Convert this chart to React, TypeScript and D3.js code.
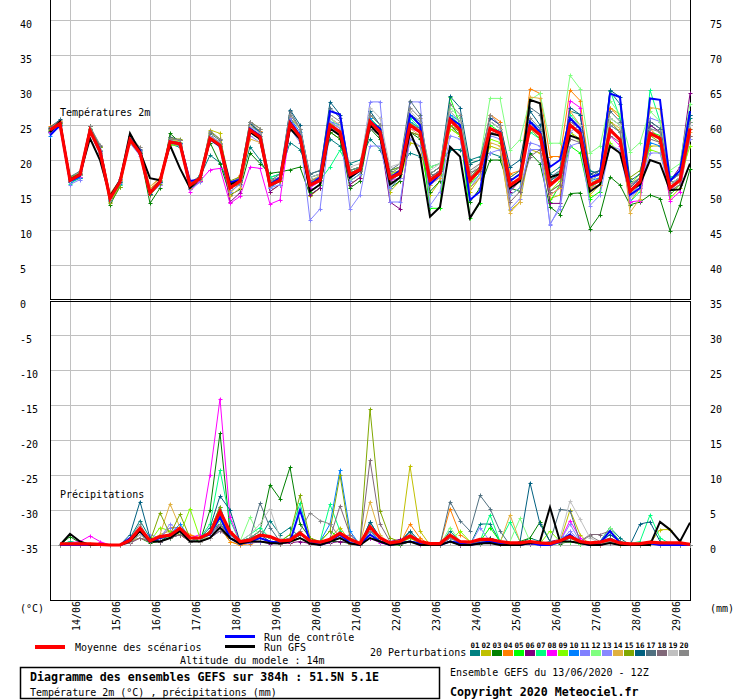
import * as d3 from "d3";

// 6-hourly steps from 13/06/2020 12Z (hours)
const T_HOURS = d3.range(0, 385, 6);
const P_HOURS = d3.range(6, 385, 6);
const DAYS = ["14/06", "15/06", "16/06", "17/06", "18/06", "19/06", "20/06", "21/06",
  "22/06", "23/06", "24/06", "25/06", "26/06", "27/06", "28/06", "29/06"];
const PERT_LABELS = ["01", "02", "03", "04", "05", "06", "07", "08", "09", "10",
  "11", "12", "13", "14", "15", "16", "17", "18", "19", "20"];
const PERT_COLORS = ["#008080", "#c0c000", "#008000", "#ff8000", "#00ff00", "#800080", "#00ff80",
  "#ff00ff", "#80ff00", "#0080ff", "#8080ff", "#80ff80", "#8888ff", "#e0b040", "#80a800",
  "#006080", "#507080", "#806878", "#c0c0c0", "#888888"];

// temperature 2m (°C)
const T_MEAN = [24.3, 25.2, 17.1, 17.9, 24.2, 21.2, 14.5, 16.9, 22.9, 21.0, 15.3, 16.9, 22.6, 22.3, 16.4, 17.4, 23.1, 22.1, 16.0, 17.0, 24.3, 23.3, 16.4, 17.1, 25.2, 23.3, 16.4, 17.1, 25.0, 24.0, 17.9, 18.6, 25.5, 24.0, 17.4, 18.1, 25.0, 24.0, 17.1, 18.1, 25.7, 24.3, 17.1, 18.6, 24.5, 23.8, 16.4, 17.4, 24.8, 23.6, 16.4, 17.6, 25.0, 23.8, 16.4, 17.1, 24.3, 22.9, 15.5, 16.9, 23.8, 23.1, 16.0, 17.1, 24.5];
const T_CTRL = [23.5, 25.0, 17.0, 17.7, 24.1, 21.5, 14.6, 17.0, 23.0, 21.4, 15.4, 17.0, 22.6, 22.4, 17.0, 17.2, 23.0, 22.0, 16.8, 17.2, 24.5, 23.5, 16.5, 17.5, 25.5, 23.5, 16.5, 17.5, 27.0, 26.5, 17.5, 18.5, 25.5, 24.5, 17.5, 18.5, 26.5, 25.0, 16.5, 18.0, 26.0, 25.0, 14.3, 15.5, 24.5, 24.0, 17.0, 18.0, 25.5, 24.0, 19.0, 20.0, 26.0, 24.5, 17.5, 18.0, 29.5, 29.0, 15.0, 16.0, 28.8, 28.6, 17.0, 18.5, 27.0];
const T_GFS = [24.0, 25.5, 17.2, 18.0, 23.1, 20.0, 14.8, 17.0, 23.8, 21.2, 17.4, 17.1, 22.1, 18.8, 16.0, 17.5, 23.0, 22.0, 16.5, 17.0, 24.0, 23.0, 16.5, 17.0, 24.5, 23.0, 15.5, 16.5, 24.5, 23.5, 17.5, 18.5, 25.0, 23.5, 16.5, 17.5, 24.0, 20.7, 11.9, 13.3, 21.9, 20.5, 11.7, 14.0, 23.8, 23.5, 16.0, 17.0, 28.6, 28.1, 17.5, 18.0, 23.5, 23.0, 15.5, 16.5, 22.0, 21.0, 15.7, 16.5, 20.0, 19.5, 15.7, 15.8, 19.5];
const T01 = [24.0, 25.0, 17.0, 17.6, 24.0, 21.5, 14.8, 17.0, 22.6, 20.8, 15.5, 17.2, 22.3, 21.8, 16.2, 17.6, 20.7, 19.6, 16.0, 16.6, 21.9, 20.0, 17.5, 18.0, 22.5, 21.5, 18.0, 18.5, 23.0, 22.0, 19.5, 20.0, 23.0, 21.5, 18.5, 19.0, 21.0, 20.5, 19.0, 19.5, 21.5, 21.5, 20.0, 20.5, 21.0, 20.5, 17.0, 18.0, 25.5, 24.0, 18.0, 19.0, 27.0, 26.5, 18.5, 18.0, 29.8, 28.0, 16.0, 17.5, 25.0, 24.0, 17.5, 18.0, 26.0];
const T02 = [24.5, 25.5, 17.5, 18.0, 24.5, 21.5, 14.0, 16.5, 23.0, 21.3, 15.0, 16.8, 23.3, 22.8, 16.8, 17.2, 24.3, 23.8, 15.2, 16.8, 25.0, 24.0, 15.5, 16.5, 26.0, 24.5, 14.8, 16.0, 24.0, 23.0, 16.5, 17.5, 26.5, 25.0, 15.5, 17.0, 22.5, 22.0, 15.0, 17.0, 24.5, 23.5, 15.5, 17.5, 22.0, 21.5, 12.8, 14.0, 21.5, 21.0, 14.5, 15.0, 24.0, 23.0, 15.0, 16.5, 27.5, 26.5, 14.0, 16.0, 22.0, 22.0, 14.5, 16.0, 23.0];
const T03 = [24.2, 25.0, 16.8, 17.4, 24.8, 21.8, 13.6, 16.2, 23.5, 21.0, 13.8, 16.0, 23.8, 22.5, 15.8, 17.0, 22.5, 19.5, 15.0, 15.8, 21.0, 19.5, 18.1, 18.3, 18.6, 19.0, 15.0, 16.0, 24.0, 23.0, 16.0, 17.0, 24.5, 23.0, 16.0, 17.0, 24.0, 23.0, 15.5, 17.0, 25.0, 23.5, 14.0, 16.0, 20.0, 20.0, 16.0, 15.5, 21.0, 19.5, 13.3, 12.2, 15.2, 15.3, 10.2, 12.2, 17.6, 16.4, 13.6, 14.0, 15.0, 14.5, 9.9, 13.6, 18.7];
const T04 = [24.8, 25.6, 17.3, 18.0, 24.5, 22.0, 15.0, 17.2, 23.2, 21.5, 15.8, 17.5, 23.0, 22.8, 16.5, 17.5, 23.5, 22.5, 16.5, 17.8, 25.0, 24.2, 17.0, 17.5, 26.5, 24.5, 17.0, 17.5, 26.0, 25.0, 18.0, 19.0, 26.0, 24.5, 18.0, 18.5, 26.5, 25.0, 17.5, 18.5, 26.0, 24.5, 18.0, 19.0, 26.5, 25.5, 18.0, 18.5, 30.2, 29.5, 20.5, 20.5, 30.0, 28.5, 18.0, 18.5, 27.5, 26.0, 16.5, 17.0, 24.5, 23.0, 15.5, 16.5, 23.5];
const T05 = [24.0, 25.2, 17.0, 17.8, 24.0, 21.0, 14.5, 16.8, 23.0, 21.2, 15.5, 17.0, 22.5, 22.0, 16.5, 17.5, 23.5, 22.0, 16.5, 17.0, 24.0, 23.0, 17.0, 17.5, 25.0, 23.0, 15.5, 16.5, 25.5, 24.0, 17.0, 18.0, 26.0, 24.5, 16.0, 17.5, 25.5, 24.0, 13.1, 13.1, 29.0, 25.0, 11.7, 13.8, 25.0, 24.0, 15.0, 16.0, 25.5, 24.0, 14.0, 16.5, 22.0, 21.0, 14.5, 15.5, 26.0, 25.0, 15.0, 16.5, 24.0, 23.5, 15.0, 16.5, 25.5];
const T06 = [24.5, 25.3, 17.2, 17.9, 24.2, 21.0, 14.5, 17.0, 23.0, 21.2, 15.2, 16.8, 22.8, 22.5, 16.0, 17.0, 23.0, 22.0, 14.0, 15.3, 24.5, 23.5, 15.5, 16.5, 25.5, 23.0, 15.0, 16.0, 25.0, 23.5, 16.5, 17.5, 25.0, 23.5, 14.0, 13.0, 24.0, 23.5, 17.5, 18.5, 26.0, 24.5, 17.0, 18.5, 24.0, 23.5, 15.5, 17.0, 25.0, 24.0, 13.8, 13.8, 25.5, 24.5, 16.5, 17.5, 24.5, 23.0, 16.0, 17.5, 25.0, 24.0, 17.0, 19.0, 29.5];
const T07 = [24.2, 25.0, 16.6, 17.5, 24.5, 21.5, 14.2, 16.5, 23.0, 21.0, 15.0, 16.8, 23.0, 22.5, 16.5, 17.8, 23.0, 22.0, 16.5, 17.5, 24.5, 23.0, 17.5, 18.0, 25.0, 23.0, 16.0, 17.1, 19.0, 21.4, 18.5, 19.0, 26.0, 24.5, 17.0, 18.0, 26.0, 24.5, 17.0, 18.0, 26.5, 25.0, 16.5, 18.0, 25.5, 24.5, 17.0, 18.0, 24.0, 23.0, 17.0, 18.5, 26.5, 25.0, 16.0, 17.0, 30.0, 26.0, 14.0, 15.5, 30.0, 25.5, 17.5, 18.0, 26.5];
const T08 = [24.0, 25.4, 17.0, 17.6, 24.3, 21.3, 14.8, 17.0, 22.8, 20.8, 15.0, 16.5, 22.8, 22.5, 15.5, 17.0, 18.6, 18.8, 13.8, 14.8, 19.0, 18.8, 13.7, 14.3, 24.5, 23.0, 16.0, 17.0, 25.5, 24.5, 17.5, 18.5, 25.0, 23.5, 17.0, 17.5, 24.5, 24.0, 16.5, 17.5, 26.0, 24.0, 17.5, 18.5, 26.0, 25.0, 16.0, 17.0, 25.0, 24.0, 15.0, 16.0, 28.5, 27.5, 16.0, 16.5, 23.5, 22.0, 14.0, 14.2, 24.0, 23.0, 14.2, 15.5, 24.5];
const T09 = [24.6, 25.3, 17.5, 18.2, 24.0, 21.0, 14.6, 17.1, 22.8, 21.2, 15.6, 17.2, 22.2, 22.0, 16.3, 17.5, 23.3, 22.5, 16.2, 17.2, 24.5, 23.5, 16.5, 17.0, 25.5, 23.5, 17.0, 17.5, 24.5, 23.5, 18.5, 19.0, 25.0, 23.5, 18.0, 18.5, 25.5, 24.5, 17.0, 18.0, 24.5, 23.5, 16.5, 18.5, 23.0, 22.5, 17.5, 18.5, 25.0, 23.5, 15.5, 17.0, 24.0, 22.5, 16.5, 17.5, 22.5, 21.0, 16.5, 18.0, 21.5, 21.0, 16.5, 17.5, 22.0];
const T10 = [23.5, 24.8, 16.8, 17.5, 24.0, 21.5, 14.3, 16.6, 23.2, 21.5, 15.2, 17.0, 22.5, 22.5, 16.6, 17.6, 23.3, 22.3, 16.3, 17.2, 24.8, 24.0, 16.0, 17.0, 26.0, 24.0, 17.0, 17.6, 25.5, 25.0, 18.0, 18.5, 26.0, 24.0, 17.5, 18.5, 25.5, 24.5, 17.0, 18.5, 26.5, 25.5, 17.5, 19.0, 24.5, 24.0, 16.0, 17.0, 25.5, 24.5, 17.5, 18.5, 26.0, 24.5, 17.0, 17.5, 25.0, 24.0, 15.0, 16.5, 22.5, 22.0, 16.0, 17.5, 25.0];
const T11 = [23.8, 25.0, 16.5, 17.2, 23.8, 21.0, 14.5, 17.0, 22.6, 21.3, 15.0, 16.5, 22.5, 22.0, 15.8, 16.8, 23.5, 22.5, 15.5, 16.5, 24.0, 23.5, 16.5, 17.5, 26.0, 23.5, 11.4, 13.0, 24.5, 24.0, 17.0, 18.0, 28.3, 28.3, 14.0, 14.0, 23.0, 22.0, 17.0, 17.5, 25.0, 24.0, 16.0, 18.0, 23.5, 23.0, 13.0, 14.5, 22.5, 22.0, 10.7, 13.5, 24.0, 25.0, 18.0, 18.5, 22.0, 21.5, 16.5, 17.0, 26.0, 25.5, 16.0, 17.5, 26.5];
const T12 = [24.4, 25.1, 17.2, 17.9, 24.6, 21.4, 14.4, 16.9, 22.7, 21.1, 15.3, 17.1, 22.9, 22.6, 16.4, 17.3, 23.0, 22.2, 16.2, 17.0, 24.0, 23.0, 16.8, 17.6, 25.5, 23.5, 17.5, 18.0, 26.0, 24.5, 17.5, 18.5, 25.0, 24.0, 18.0, 19.0, 26.5, 25.0, 19.0, 19.5, 27.5, 26.0, 19.5, 20.0, 28.8, 28.8, 21.4, 22.9, 28.6, 29.5, 22.4, 22.4, 32.1, 30.2, 21.0, 22.0, 28.5, 26.5, 21.2, 22.5, 27.0, 25.5, 18.5, 19.5, 28.0];
const T13 = [24.1, 25.2, 17.4, 18.1, 23.9, 20.8, 14.7, 17.3, 22.4, 20.6, 15.4, 16.7, 22.9, 22.0, 16.2, 17.2, 22.8, 21.8, 16.8, 17.5, 23.5, 22.5, 16.0, 16.5, 24.5, 22.5, 16.5, 17.0, 25.5, 24.5, 13.0, 15.0, 22.0, 22.0, 16.0, 17.5, 28.3, 28.3, 13.5, 15.5, 23.5, 23.0, 16.0, 17.5, 21.0, 21.5, 15.0, 16.0, 21.5, 21.5, 10.9, 13.0, 22.0, 22.5, 13.5, 15.0, 22.0, 21.0, 14.5, 16.0, 21.0, 21.0, 15.5, 17.0, 23.0];
const T14 = [24.5, 25.6, 17.4, 18.3, 24.3, 22.0, 15.2, 17.2, 22.5, 21.8, 16.2, 17.5, 22.6, 22.8, 16.0, 17.2, 22.8, 22.2, 14.8, 16.0, 23.0, 22.5, 16.5, 17.0, 24.5, 23.0, 17.0, 17.8, 25.0, 24.0, 18.0, 18.5, 25.0, 24.0, 17.5, 18.0, 24.5, 23.5, 16.5, 17.5, 25.0, 24.0, 16.0, 17.5, 22.5, 22.0, 12.5, 14.0, 29.0, 28.8, 15.0, 16.0, 27.0, 25.0, 16.0, 16.5, 25.5, 24.5, 12.5, 14.5, 27.5, 27.3, 15.5, 16.5, 24.0];
const T15 = [24.3, 25.3, 17.6, 18.0, 24.8, 21.8, 13.8, 16.2, 22.8, 21.0, 15.0, 16.6, 23.0, 23.0, 16.8, 17.6, 24.0, 23.0, 17.0, 17.6, 25.5, 24.5, 16.5, 17.0, 25.5, 23.5, 16.8, 17.2, 25.0, 23.5, 18.0, 18.8, 25.5, 24.0, 18.5, 19.0, 24.0, 23.5, 18.0, 19.0, 25.0, 24.0, 17.5, 19.0, 24.0, 23.5, 17.0, 18.0, 24.5, 23.0, 15.5, 16.5, 25.0, 24.0, 17.0, 18.0, 25.5, 24.0, 17.5, 18.5, 23.5, 22.5, 16.5, 17.5, 24.5];
const T16 = [24.6, 25.8, 17.0, 17.8, 24.0, 21.3, 14.4, 16.9, 23.1, 21.0, 15.1, 16.8, 22.7, 22.3, 16.4, 17.4, 23.2, 22.3, 16.2, 17.2, 25.2, 24.0, 16.8, 17.5, 27.2, 25.0, 17.5, 18.0, 28.3, 26.5, 18.5, 19.0, 27.0, 25.0, 17.0, 18.5, 26.5, 25.5, 18.0, 19.0, 29.1, 27.5, 19.5, 20.0, 26.0, 25.0, 19.0, 20.0, 27.0, 25.0, 17.0, 18.0, 27.5, 26.5, 18.0, 18.5, 30.0, 29.0, 17.0, 18.0, 25.5, 24.5, 16.5, 17.5, 26.5];
const T17 = [24.7, 25.5, 17.6, 18.4, 24.8, 22.0, 14.9, 17.3, 23.4, 21.6, 15.5, 17.0, 23.3, 22.8, 16.6, 17.8, 23.8, 22.8, 16.5, 17.5, 25.5, 24.0, 17.0, 18.0, 27.0, 24.5, 18.0, 18.5, 27.5, 26.0, 18.0, 19.0, 26.5, 25.0, 18.5, 19.5, 28.5, 26.5, 17.5, 18.5, 27.0, 25.5, 18.0, 19.0, 25.5, 24.5, 17.5, 18.5, 27.5, 26.5, 17.0, 18.0, 25.0, 24.0, 17.5, 18.5, 27.0, 25.5, 16.0, 17.5, 25.5, 24.5, 17.0, 18.0, 25.0];
const T18 = [24.2, 25.0, 17.3, 18.0, 24.4, 21.2, 14.6, 17.0, 22.9, 21.2, 15.4, 17.0, 22.4, 22.1, 16.3, 17.3, 23.0, 22.0, 16.0, 17.0, 24.0, 23.0, 16.5, 17.5, 25.0, 23.5, 16.5, 17.5, 24.5, 23.5, 18.0, 18.5, 24.5, 23.5, 17.0, 18.0, 25.0, 24.5, 17.5, 18.5, 26.0, 24.5, 17.0, 18.5, 24.0, 23.5, 14.0, 15.5, 20.5, 21.5, 15.5, 16.5, 23.0, 22.5, 17.0, 18.0, 23.5, 22.5, 15.5, 16.5, 23.0, 22.5, 15.5, 16.5, 23.5];
const T19 = [24.4, 25.2, 17.0, 17.8, 24.2, 21.5, 14.5, 17.0, 23.0, 21.2, 15.5, 17.0, 22.7, 22.3, 16.5, 17.5, 23.3, 22.3, 16.2, 17.3, 24.8, 23.8, 17.0, 17.5, 26.5, 24.5, 17.5, 18.0, 26.0, 25.0, 19.0, 19.5, 27.5, 26.0, 19.0, 19.5, 27.0, 25.5, 18.5, 19.5, 27.0, 25.5, 18.0, 19.5, 25.5, 24.5, 17.0, 18.0, 25.0, 24.0, 16.5, 18.0, 26.0, 25.0, 17.0, 18.0, 26.0, 25.0, 15.0, 16.5, 24.5, 24.0, 16.5, 17.5, 25.0];
const T20 = [24.5, 25.7, 17.3, 18.2, 24.8, 22.2, 14.2, 16.7, 23.5, 21.8, 15.4, 17.0, 23.0, 22.9, 16.8, 17.6, 24.2, 23.0, 16.4, 17.4, 25.5, 24.5, 17.0, 17.6, 26.5, 24.5, 17.0, 17.5, 26.5, 25.5, 18.5, 19.0, 26.5, 25.0, 18.0, 19.0, 27.5, 26.0, 18.0, 19.0, 28.0, 26.5, 18.5, 19.5, 26.5, 25.0, 17.0, 18.0, 26.0, 24.5, 17.5, 18.5, 25.5, 24.5, 17.5, 18.0, 25.0, 24.0, 16.5, 17.5, 24.5, 24.0, 17.0, 18.0, 25.5];

// precipitation (mm / 6h)
const P_MEAN = [0.15, 0.15, 0.15, 0.15, 0.1, 0, 0, 0.7, 2.4, 0.6, 1.2, 1.4, 2.4, 1.0, 1.0, 1.7, 4.8, 1.9, 0.5, 0.7, 1.4, 1.2, 0.6, 0.7, 1.7, 0.6, 0.4, 0.8, 1.7, 0.8, 0.2, 2.6, 1.0, 0.3, 0.5, 1.3, 0.5, 0.2, 0.2, 1.4, 0.5, 0.4, 0.8, 0.8, 0.5, 0.3, 0.3, 0.5, 0.3, 0.2, 0.6, 1.2, 0.5, 0.3, 0.4, 0.8, 0.3, 0.15, 0.2, 0.4, 0.3, 0.3, 0.3, 0.1];
const P_CTRL = [0, 0, 0, 0, 0, 0, 0, 1.0, 2.0, 0.5, 1.0, 1.5, 2.0, 1.0, 1.0, 1.5, 4.0, 1.0, 0.2, 0.5, 1.0, 0.5, 0.3, 0.5, 5.0, 0.5, 0, 0.5, 1.5, 0.3, 0, 1.5, 0.5, 0, 0.3, 0.5, 0.2, 0, 0, 0.5, 0.3, 0, 0.3, 0.5, 0.3, 0, 0, 0.3, 0, 0, 0.5, 1.5, 0.3, 0, 0.3, 2.0, 0.3, 0, 0, 0.2, 0, 0, 0, 0];
const P_GFS = [0, 1.6, 0.5, 0, 0, 0, 0, 0.5, 2.0, 0.5, 0.5, 1.0, 2.0, 0.5, 0.5, 1.0, 2.5, 1.0, 0.2, 0.5, 0.5, 0.3, 0.2, 0.5, 1.0, 0.2, 0, 0.5, 1.0, 0.2, 0, 1.0, 0.5, 0, 0.2, 0.5, 0, 0, 0, 0.5, 0, 0, 0.2, 0.3, 0, 0, 0, 0.3, 0.5, 5.4, 0.5, 0.5, 0.3, 0, 0, 0.3, 0, 0, 0, 0, 3.3, 2.2, 0.5, 3.2];
const P01 = [0, 0.5, 0.2, 0, 0, 0, 0, 1.0, 3.5, 1.0, 0.5, 1.0, 2.5, 0.5, 0.5, 2.0, 3.0, 1.0, 0.2, 0.5, 1.0, 3.5, 1.5, 2.5, 1.0, 0.3, 0, 0.5, 1.0, 0.2, 0, 3.3, 1.0, 0, 0.5, 1.8, 0.2, 0, 0, 2.0, 0.5, 0, 3.0, 3.0, 0.5, 0, 0.2, 1.0, 0.5, 0, 0.5, 1.0, 0.3, 0, 0.5, 2.5, 1.0, 0, 0, 0.5, 0.3, 0, 0, 0];
const P02 = [0, 0.2, 0, 0, 0, 0, 0, 0.5, 1.5, 0.5, 1.5, 2.0, 1.5, 0.5, 1.0, 1.5, 2.5, 0.5, 0, 0.5, 1.0, 0.5, 0.2, 0.5, 1.0, 0.2, 0, 1.0, 2.5, 0.5, 0, 2.0, 0.5, 0, 0.5, 11.3, 2.0, 0, 0, 0.5, 0.2, 0, 0.3, 0.5, 0.2, 0, 0, 0.3, 0, 0, 0.5, 5.0, 1.5, 0, 0, 0.5, 0, 0, 0, 0.2, 2.2, 2.2, 0.5, 0];
const P03 = [0, 1.2, 0.3, 0, 0, 0, 0, 0.5, 1.0, 0.3, 0.5, 1.0, 1.5, 1.0, 0.5, 5.0, 16.0, 2.0, 0.5, 1.0, 2.0, 8.6, 6.6, 11.1, 3.0, 1.0, 0.2, 0.5, 0.5, 0.2, 0, 1.0, 0.5, 0, 0, 0.5, 0.2, 0, 0, 0.5, 0, 0, 0.2, 0.5, 0.3, 0, 0.5, 1.0, 3.3, 0.5, 0.2, 0.5, 0.2, 0, 0.3, 0.5, 0.2, 0, 0, 0.5, 0.3, 0, 0, 0];
const P04 = [0, 0, 0, 0.1, 0, 0, 0, 0.5, 1.5, 0.5, 1.0, 2.5, 2.5, 1.5, 1.0, 1.0, 2.5, 0.5, 0, 0.2, 0.5, 0.5, 0.2, 0.3, 1.0, 0.3, 0, 0.5, 1.5, 0.5, 0, 1.5, 0.5, 0, 0.2, 3.0, 1.0, 0, 0, 5.2, 1.5, 0.5, 0.5, 0.5, 0.3, 0, 0, 0.5, 0, 0, 0.5, 1.0, 0.3, 0, 0.2, 0.5, 0, 0, 0, 0.3, 0.2, 0, 0, 0];
const P05 = [0, 0.2, 0, 0, 0, 0, 0, 0.5, 2.0, 0.5, 1.0, 1.5, 2.0, 0.5, 1.0, 1.5, 4.0, 1.5, 0.5, 1.0, 1.0, 0.5, 0.2, 0.5, 1.5, 0.5, 0.5, 2.0, 1.0, 0.2, 0, 1.5, 0.5, 0, 0.3, 0.5, 0.2, 0, 0, 0.5, 0.3, 0.2, 0.5, 2.5, 0.5, 0, 0, 0.2, 0, 0, 0.5, 0.5, 0.2, 0, 0, 0.5, 0.2, 0, 0, 0.3, 0, 0, 0, 0];
const P06 = [0, 0.3, 0, 0, 0, 0, 0, 0.3, 1.0, 0.5, 0.5, 1.0, 1.5, 0.5, 0.5, 1.0, 3.0, 1.0, 0.2, 0.3, 0.5, 0.2, 0.2, 0.3, 0.5, 0.2, 0, 0.3, 0.5, 0.3, 0, 1.0, 0.5, 0.5, 0.8, 1.0, 0.5, 0, 0, 0.5, 0, 0, 0.3, 0.3, 0.2, 0, 0, 0.2, 0, 0.5, 0.8, 1.5, 0.5, 0, 0.2, 0.3, 0, 0, 0, 0.2, 0, 0, 0, 0];
const P07 = [0, 0.5, 0.2, 0, 0, 0, 0, 0.5, 1.5, 0.5, 1.0, 1.0, 2.0, 0.5, 1.0, 3.0, 10.7, 3.5, 0.5, 1.5, 2.5, 1.0, 0.5, 1.5, 6.0, 0.5, 0.5, 5.8, 2.0, 0.5, 0, 2.0, 1.0, 0, 0.3, 1.0, 0.5, 0, 0, 1.5, 0.5, 0, 0.5, 4.3, 0.5, 3.3, 0.5, 0.5, 0.2, 0, 0.3, 1.0, 0.5, 0, 0.3, 1.5, 0.5, 0.2, 0.5, 4.3, 1.0, 0.2, 0, 0];
const P08 = [0, 0.3, 0.5, 1.3, 0.5, 0, 0, 0.5, 2.0, 0.5, 1.0, 1.5, 2.5, 1.0, 1.5, 10.0, 20.9, 4.0, 0.5, 0.5, 1.0, 0.5, 0.2, 0.5, 1.0, 0.3, 0, 0.5, 1.0, 0.2, 0, 1.0, 0.3, 0, 0.2, 0.5, 0, 0, 0, 0.5, 0.2, 0, 0.3, 0.5, 0.3, 0, 0, 0.3, 0, 0, 0.5, 3.5, 1.0, 0, 0, 0.5, 0, 0, 0, 0.3, 0, 0, 0, 0];
const P09 = [0, 0, 0, 0, 0, 0, 0, 0.5, 1.5, 0.5, 2.5, 2.0, 1.5, 5.2, 1.0, 1.5, 2.5, 1.0, 0.3, 0.5, 1.0, 0.5, 0.2, 0.5, 1.0, 0.3, 0, 0.5, 1.5, 0.5, 0, 1.5, 0.5, 0, 0.3, 1.0, 0.3, 0, 0, 0.5, 2.0, 0.5, 0.5, 0.5, 0.3, 0, 0, 0.5, 0.2, 2.0, 0.5, 1.0, 0.3, 0, 0.2, 0.5, 0, 0, 0, 0.3, 0.2, 0, 0, 0];
const P10 = [0, 0, 0, 0, 0, 0, 0, 1.0, 2.5, 0.5, 1.0, 1.5, 3.0, 1.0, 1.0, 2.0, 5.5, 1.5, 0.2, 0.5, 1.0, 0.5, 0.3, 0.5, 1.5, 0.5, 0.5, 3.0, 10.7, 2.0, 0, 2.0, 0.5, 0, 0.3, 0.5, 0.2, 0, 0, 1.0, 0.3, 0.3, 0.5, 0.5, 0.3, 0, 0, 0.5, 0.2, 0, 1.0, 1.5, 0.5, 0, 0.5, 1.0, 0.3, 0, 0, 0.3, 0, 0, 0, 0];
const P11 = [0, 0, 0, 0, 0, 0, 0, 0.5, 1.5, 0.5, 1.0, 2.5, 2.0, 0.5, 0.5, 1.0, 2.0, 2.0, 0.2, 0.3, 0.5, 0.3, 0.2, 0.5, 1.0, 0.5, 0.2, 0.5, 1.0, 1.5, 0, 1.5, 0.5, 0, 0.2, 0.5, 0.3, 0, 0, 1.0, 0.5, 0, 0.5, 1.0, 0.5, 0, 0, 0.3, 0, 0, 0.5, 2.0, 0.5, 0, 0.3, 1.5, 0.5, 0, 0, 0.3, 0, 0, 0, 0];
const P12 = [0, 0, 0, 0, 0, 0, 0, 0.5, 2.0, 0.5, 1.0, 1.0, 2.0, 0.5, 0.5, 1.5, 3.5, 1.0, 0.5, 4.0, 1.0, 0.5, 0.3, 0.5, 1.0, 0.3, 0, 0.5, 1.0, 0.3, 0, 1.5, 0.5, 0, 0.3, 0.5, 0.2, 0, 0, 2.5, 0.5, 0, 0.5, 0.5, 0.3, 0.5, 3.8, 0.5, 0, 0, 0.3, 0.5, 0.2, 0, 0.3, 2.5, 0.5, 0, 0, 0.5, 0.2, 0, 0, 0];
const P13 = [0, 0, 0, 0, 0, 0, 0, 0.5, 1.5, 1.5, 1.0, 3.0, 2.0, 0.5, 1.0, 1.5, 2.5, 1.0, 0.2, 0.5, 1.0, 0.5, 0.3, 0.5, 1.0, 0.3, 0, 0.5, 1.5, 0.3, 0, 1.5, 0.5, 0, 0.3, 0.5, 0.2, 0, 0, 1.0, 0.3, 0, 2.5, 0.5, 0.3, 0, 0, 0.3, 0, 0, 0.5, 3.0, 0.5, 0, 0.3, 0.5, 0.2, 0, 0, 0.2, 0, 0, 0, 0];
const P14 = [0, 0, 0, 0, 0, 0, 0, 0.5, 1.0, 0.5, 1.5, 5.9, 2.5, 0.5, 0.5, 1.0, 2.5, 1.0, 0.3, 0.5, 1.0, 0.5, 0.2, 0.5, 2.0, 0.5, 0, 0.5, 1.0, 0.2, 0, 6.2, 1.5, 0, 0.3, 1.0, 0.3, 0, 0, 1.5, 0.5, 0, 0.5, 0.5, 0.3, 4.3, 0.5, 0.5, 0, 0, 0.5, 1.5, 0.5, 0, 0.2, 0.5, 0, 0, 0, 0.2, 0, 0, 0, 0];
const P15 = [0, 0, 0, 0, 0, 0, 0, 0.5, 1.5, 0.5, 4.6, 1.5, 4.4, 1.0, 1.0, 2.0, 5.5, 1.0, 0.3, 0.5, 1.5, 1.0, 0.5, 1.5, 7.1, 1.0, 0.5, 2.0, 10.0, 1.0, 0.2, 19.4, 4.9, 1.0, 0.5, 1.0, 0.3, 0, 0, 1.0, 0.5, 0, 0.5, 1.0, 0.5, 0, 0, 0.5, 0.2, 0, 0.5, 1.5, 0.5, 0, 0.3, 0.5, 0.2, 0, 0, 0.3, 0.2, 0, 0, 0];
const P16 = [0, 0.3, 0, 0, 0, 0, 0, 1.5, 6.2, 1.0, 0.5, 1.5, 2.0, 0.5, 1.0, 2.5, 7.0, 5.0, 0.5, 1.0, 1.5, 0.5, 0.5, 1.0, 1.5, 0.5, 0.2, 0.5, 1.5, 0.5, 0, 3.3, 1.0, 0, 0.5, 2.0, 0.5, 0, 0, 1.5, 0.5, 0, 0.5, 1.0, 0.5, 0, 0.5, 8.9, 3.0, 0.5, 0.5, 1.0, 0.5, 0, 0.5, 1.5, 0.5, 0, 3.0, 3.3, 0.5, 0, 0, 0];
const P17 = [0, 0, 0, 0, 0, 0, 0, 0.5, 1.5, 0.5, 1.0, 1.5, 2.0, 0.5, 1.0, 1.5, 3.0, 1.5, 0.3, 1.0, 6.0, 2.5, 0.5, 0.5, 1.0, 0.3, 0, 0.5, 1.0, 0.3, 0, 1.5, 0.5, 0, 0.3, 0.5, 0.3, 0, 0, 6.2, 3.5, 2.0, 7.1, 5.2, 2.0, 0, 0, 0.5, 0.2, 0.5, 5.1, 4.9, 0.5, 0, 0.3, 0.5, 0.2, 0, 0, 0.3, 0, 0, 0, 0];
const P18 = [0, 0, 0, 0, 0, 0, 0, 0.3, 1.0, 0.5, 0.5, 1.0, 1.5, 0.5, 0.5, 1.0, 2.0, 1.0, 0.2, 0.5, 1.0, 0.5, 0.2, 0.5, 1.0, 0.5, 0, 1.0, 5.6, 1.5, 0.2, 12.1, 3.0, 0.5, 0.2, 0.5, 0.2, 0, 0, 1.0, 0.3, 0, 0.3, 0.5, 0.3, 0, 0, 0.5, 0.2, 0, 0.3, 1.0, 0.5, 1.5, 1.5, 2.0, 0.5, 0, 0, 0.3, 0, 0, 0, 0];
const P19 = [0, 0, 0, 0, 0, 0, 0, 0.5, 1.5, 0.5, 1.0, 1.5, 2.5, 0.5, 0.5, 1.0, 2.5, 1.0, 0.5, 1.5, 3.0, 5.2, 1.0, 0.5, 1.0, 0.3, 0, 0.5, 1.0, 0.5, 0, 1.5, 0.5, 0, 0.3, 0.5, 0.2, 0, 0, 0.5, 0.2, 0, 0.3, 0.5, 0.3, 0, 0, 0.5, 0, 0, 1.0, 6.3, 3.7, 1.0, 0.3, 0.5, 0.2, 0, 0, 0.2, 0, 0, 0, 0];
const P20 = [0, 0, 0, 0, 0, 0, 0, 1.0, 3.0, 0.5, 1.0, 1.5, 2.0, 0.5, 1.0, 1.5, 3.0, 1.0, 0.5, 1.0, 2.0, 1.0, 0.5, 1.0, 2.0, 4.6, 3.5, 3.0, 1.0, 0.3, 0, 2.0, 1.0, 0, 0.3, 0.5, 0.2, 0, 0, 1.0, 0.5, 0, 0.5, 0.5, 0.3, 0, 0, 0.5, 0.2, 0, 0.5, 1.5, 0.5, 1.3, 0.5, 0.5, 0.2, 0, 0, 0.3, 0, 0, 0, 0];

const T_PERTS = [T01, T02, T03, T04, T05, T06, T07, T08, T09, T10, T11, T12, T13, T14, T15, T16, T17, T18, T19, T20];
const P_PERTS = [P01, P02, P03, P04, P05, P06, P07, P08, P09, P10, P11, P12, P13, P14, P15, P16, P17, P18, P19, P20];

const FONT = "'DejaVu Sans Mono', monospace";
const GRID = "#c0c0c0";

const x = d3.scaleLinear().domain([0, 384]).range([50, 690]);
const yT = d3.scaleLinear().domain([0, 40]).range([300, 20]);
const yP = d3.scaleLinear().domain([0, 35]).range([545, 300]);
const levels = d3.range(40, -36, -5);

const tLine = d3.line<number>().x((_, i) => x(T_HOURS[i])).y((v) => yT(v));
const pLine = d3.line<number>().x((_, i) => x(P_HOURS[i])).y((v) => yP(v));

// little "+" at every data point
const crosses = (vals: number[], hours: number[], y: (v: number) => number) =>
  vals.map((v, i) => {
    const cx = Math.round(x(hours[i])) + 0.5;
    const cy = Math.round(y(v)) + 0.5;
    return `M${cx - 2},${cy}h4M${cx},${cy - 2}v4`;
  }).join("");

const Series = ({ vals, hours, y, line, color, width, marks }: any) => (
  <g>
    <path d={line(vals)} fill="none" stroke={color} strokeWidth={width} />
    {marks && <path d={crosses(vals, hours, y)} stroke={color} strokeWidth={1} fill="none" />}
  </g>
);

export default function App() {
  return (
    <svg width={740} height={700} style={{ position: "absolute", left: 0, top: 0, background: "#fff" }}
      fontFamily={FONT}>
      <rect width={740} height={700} fill="#fff" />
      {/* grid */}
      <g shapeRendering="crispEdges" stroke={GRID}>
        {DAYS.map((d, i) => (
          <line key={d} x1={x(12 + 24 * i) + 0.5} x2={x(12 + 24 * i) + 0.5} y1={0} y2={600} />
        ))}
        {levels.filter((l) => l !== 0).map((l) => (
          <line key={l} x1={50} x2={690} y1={yT(l) + 0.5} y2={yT(l) + 0.5} />
        ))}
      </g>
      {/* axes */}
      <g shapeRendering="crispEdges" stroke="#000">
        <line x1={50.5} x2={50.5} y1={0} y2={300} />
        <line x1={50.5} x2={50.5} y1={301} y2={601} />
        <line x1={690.5} x2={690.5} y1={0} y2={300} />
        <line x1={690.5} x2={690.5} y1={301} y2={601} />
        <line x1={50} x2={691} y1={299.5} y2={299.5} />
        <line x1={50} x2={691} y1={301.5} y2={301.5} />
        <line x1={50} x2={691} y1={600.5} y2={600.5} />
      </g>
      {/* axis labels */}
      <g fontSize={10} fill="#000">
        {levels.map((l) => (
          <text key={"l" + l} x={20} y={yT(l) + 8}>{l}</text>
        ))}
        {levels.map((l) => (
          <text key={"r" + l} x={710} y={yT(l) + 8}>{l + 35}</text>
        ))}
        <text x={20} y={612}>(°C)</text>
        <text x={710} y={612}>(mm)</text>
        {DAYS.map((d, i) => (
          <text key={d} textAnchor="end" transform={`translate(${x(12 + 24 * i) + 10},601) rotate(-90)`}>{d}</text>
        ))}
        <text x={60} y={116}>Températures 2m</text>
        <text x={60} y={498}>Précipitations</text>
      </g>
      {/* temperature */}
      {T_PERTS.map((s, i) => (
        <Series key={"t" + i} vals={s} hours={T_HOURS} y={yT} line={tLine} color={PERT_COLORS[i]} width={1} marks />
      ))}
      <Series vals={T_CTRL} hours={T_HOURS} y={yT} line={tLine} color="#0000ff" width={2} />
      <Series vals={T_GFS} hours={T_HOURS} y={yT} line={tLine} color="#000" width={2} />
      <Series vals={T_MEAN} hours={T_HOURS} y={yT} line={tLine} color="#ff0000" width={3.2} />
      {/* precipitation */}
      {P_PERTS.map((s, i) => (
        <Series key={"p" + i} vals={s} hours={P_HOURS} y={yP} line={pLine} color={PERT_COLORS[i]} width={1} marks />
      ))}
      <Series vals={P_CTRL} hours={P_HOURS} y={yP} line={pLine} color="#0000ff" width={2} />
      <Series vals={P_GFS} hours={P_HOURS} y={yP} line={pLine} color="#000" width={2} />
      <Series vals={P_MEAN} hours={P_HOURS} y={yP} line={pLine} color="#ff0000" width={3.2} />
      {/* legend */}
      <g fontSize={10} fill="#000">
        <rect x={35} y={645} width={30} height={4} fill="#ff0000" />
        <text x={75} y={651}>Moyenne des scénarios</text>
        <rect x={225} y={635} width={30} height={3} fill="#0000ff" />
        <rect x={225} y={645} width={30} height={3} fill="#000" />
        <text x={264} y={641}>Run de contrôle</text>
        <text x={264} y={651}>Run GFS</text>
        <text x={180} y={664}>Altitude du modele : 14m</text>
        <text x={370} y={656}>20 Perturbations</text>
        {PERT_LABELS.map((p, i) => (
          <g key={p}>
            <text x={475 + 11 * i} y={648} fontSize={7.5} fontWeight="bold" textAnchor="middle">{p}</text>
            <rect x={470 + 11 * i} y={650} width={10} height={6} fill={PERT_COLORS[i]} />
          </g>
        ))}
        <rect x={20.5} y={667.5} width={419} height={31} fill="none" stroke="#000" strokeWidth={1.5} />
        <text x={30} y={681} fontSize={11.6} fontWeight="bold">Diagramme des ensembles GEFS sur 384h : 51.5N 5.1E</text>
        <text x={30} y={696}>Température 2m (°C) , précipitations (mm)</text>
        <text x={450} y={676}>Ensemble GEFS du 13/06/2020 - 12Z</text>
        <text x={450} y={696} fontSize={11.6} fontWeight="bold">Copyright 2020 Meteociel.fr</text>
      </g>
    </svg>
  );
}
